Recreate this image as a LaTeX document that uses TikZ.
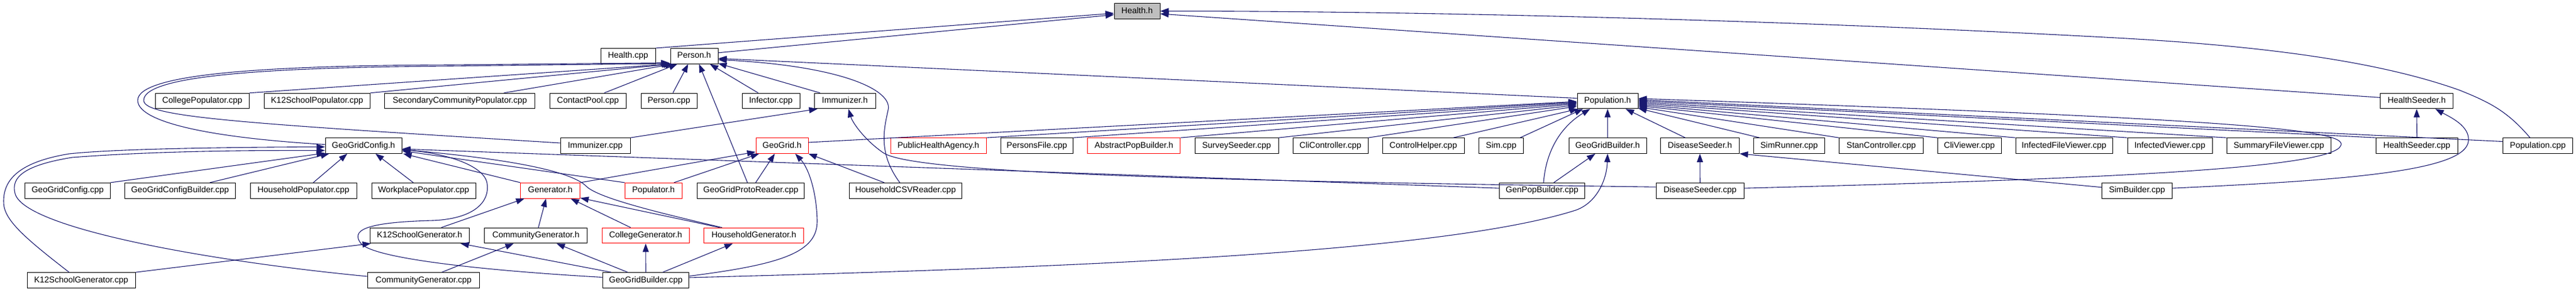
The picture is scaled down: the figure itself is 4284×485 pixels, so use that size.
\documentclass[tikz,border=0pt]{standalone}
\usepackage{fontspec}
\setmainfont{Liberation Sans}
\usetikzlibrary{arrows.meta,calc}
\definecolor{edgeblue}{HTML}{191970}
\definecolor{boxgray}{HTML}{BFBFBF}
\tikzset{
  box/.style={draw=black, line width=1pt, fill=white, minimum height=25.6pt, inner sep=0pt,
    font=\fontsize{14}{16}\selectfont, text height=10pt, text depth=3pt},
  redbox/.style={box, draw=red},
  dep/.style={draw=edgeblue, line width=1.1pt, -{Triangle[length=14pt,width=10pt]}},
}
\begin{document}
\begin{tikzpicture}[x=1pt,y=-1pt]
\useasboundingbox (0,0) rectangle (4284,485);
\fill[white] (0,0) rectangle (4284,485);
% ---------- row 0
\node[box, fill=boxgray, minimum width=76pt] (healthh) at (1891,18.5) {Health.h};
% ---------- row 1
\node[box, minimum width=91pt] (healthcpp) at (1044.5,93.3) {Health.cpp};
\node[box, minimum width=79pt] (personh) at (1154.5,93.3) {Person.h};
% ---------- row 2
\node[box, minimum width=156pt] (collegepop) at (336.5,168) {CollegePopulator.cpp};
\node[box, minimum width=176pt] (k12pop) at (527.3,168) {K12SchoolPopulator.cpp};
\node[box, minimum width=250pt] (seccom) at (764.8,168) {SecondaryCommunityPopulator.cpp};
\node[box, minimum width=127pt] (contactpool) at (977.8,168) {ContactPool.cpp};
\node[box, minimum width=93pt] (personcpp) at (1112.5,168) {Person.cpp};
\node[box, minimum width=96pt] (infector) at (1282,168) {Infector.cpp};
\node[box, minimum width=102pt] (immunizerh) at (1405,168) {Immunizer.h};
\node[box, minimum width=101pt] (populationh) at (2673.5,168) {Population.h};
\node[box, minimum width=121.5pt] (healthseederh) at (4019,168) {HealthSeeder.h};
% ---------- row 3
\node[box, minimum width=127pt] (ggconfigh) at (604.5,242.5) {GeoGridConfig.h};
\node[box, minimum width=116pt] (immunizercpp) at (990,242.5) {Immunizer.cpp};
\node[redbox, minimum width=87pt] (geogridh) at (1300.5,242.5) {GeoGrid.h};
\node[redbox, minimum width=159pt] (pha) at (1560.5,242.5) {PublicHealthAgency.h};
\node[box, minimum width=120pt] (personsfile) at (1724.4,242.5) {PersonsFile.cpp};
\node[redbox, minimum width=154pt] (abspop) at (1885.8,242.5) {AbstractPopBuilder.h};
\node[box, minimum width=139pt] (surveyseeder) at (2056.5,242.5) {SurveySeeder.cpp};
\node[box, minimum width=125pt] (clicontroller) at (2212.5,242.5) {CliController.cpp};
\node[box, minimum width=136pt] (controlhelper) at (2367,242.5) {ControlHelper.cpp};
\node[box, minimum width=74pt] (simcpp) at (2496.5,242.5) {Sim.cpp};
\node[box, minimum width=129pt] (ggbuilderh) at (2673.5,242.5) {GeoGridBuilder.h};
\node[box, minimum width=131pt] (diseaseseederh) at (2827,242.5) {DiseaseSeeder.h};
\node[box, minimum width=117.6pt] (simrunner) at (2975.4,242.5) {SimRunner.cpp};
\node[box, minimum width=140pt] (stancontroller) at (3128.5,242.5) {StanController.cpp};
\node[box, minimum width=105.6pt] (cliviewer) at (3275.2,242.5) {CliViewer.cpp};
\node[box, minimum width=161pt] (infectedfileviewer) at (3432.5,242.5) {InfectedFileViewer.cpp};
\node[box, minimum width=141pt] (infectedviewer) at (3608.5,242.5) {InfectedViewer.cpp};
\node[box, minimum width=173.5pt] (summaryfileviewer) at (3789.8,242.5) {SummaryFileViewer.cpp};
\node[box, minimum width=135.5pt] (healthseedercpp) at (4019.3,242.5) {HealthSeeder.cpp};
\node[box, minimum width=116pt] (populationcpp) at (4220.5,242.5) {Population.cpp};
% ---------- row 4
\node[box, minimum width=141.4pt] (ggconfigcpp) at (112.5,317.2) {GeoGridConfig.cpp};
\node[box, minimum width=183.7pt] (ggcb) at (299.4,317.2) {GeoGridConfigBuilder.cpp};
\node[box, minimum width=177pt] (hhpop) at (504.6,317.2) {HouseholdPopulator.cpp};
\node[box, minimum width=173pt] (wppop) at (704.5,317.2) {WorkplacePopulator.cpp};
\node[redbox, minimum width=98.8pt] (generatorh) at (915.1,317.2) {Generator.h};
\node[redbox, minimum width=95pt] (populatorh) at (1086.8,317.2) {Populator.h};
\node[box, minimum width=178pt] (ggpr) at (1248.7,317.2) {GeoGridProtoReader.cpp};
\node[box, minimum width=187pt] (hhcsv) at (1505.9,317.2) {HouseholdCSVReader.cpp};
\node[box, minimum width=142pt] (genpop) at (2564.5,317.2) {GenPopBuilder.cpp};
\node[box, minimum width=146pt] (diseaseseedercpp) at (2827.2,317.2) {DiseaseSeeder.cpp};
\node[box, minimum width=117.3pt] (simbuilder) at (3553.9,317.2) {SimBuilder.cpp};
% ---------- row 5
\node[box, minimum width=165pt] (k12genh) at (697.8,392) {K12SchoolGenerator.h};
\node[box, minimum width=171.3pt] (comgenh) at (891.3,392) {CommunityGenerator.h};
\node[redbox, minimum width=145pt] (colgenh) at (1073.8,392) {CollegeGenerator.h};
\node[redbox, minimum width=166pt] (hhgenh) at (1253.7,392) {HouseholdGenerator.h};
% ---------- row 6
\node[box, minimum width=180pt] (k12gencpp) at (135,466.5) {K12SchoolGenerator.cpp};
\node[box, minimum width=186.7pt] (comgencpp) at (704.5,466.5) {CommunityGenerator.cpp};
\node[box, minimum width=143.7pt] (ggbcpp) at (1074,466.5) {GeoGridBuilder.cpp};

% ================= edges
% Health.h
\draw[dep] (healthcpp.north east) -- ($(healthh.west)+(0,3.5)$);
\draw[dep] ($(personh.east)+(0,-5.5)$) -- ($(healthh.west)+(0,6)$);
\draw[dep] ($(healthseederh.west)+(0,-5.7)$) -- ($(healthh.east)+(0,4.5)$);
\draw[dep] ($(populationcpp.north)+(-13,0)$) .. controls (4170,185) and (4140,170) .. (4090,150)
   .. controls (3950,100) and (3750,75) .. (3500,62)
   .. controls (3000,35) and (2400,18.5) .. (healthh.east);
% Person.h
\draw[dep] (collegepop.north east) -- (personh.south west);
\draw[dep] (k12pop.north east) -- ($(personh.south west)+(3,0)$);
\draw[dep] ($(seccom.north)+(73,0)$) -- ($(personh.south west)+(6,0)$);
\draw[dep] ($(contactpool.north)+(27,0)$) -- ($(personh.south west)+(12,0)$);
\draw[dep] ($(personcpp.north)+(6.5,0)$) -- ($(personh.south)+(-10,0)$);
\draw[dep] ($(ggpr.north)+(-5.7,0)$) -- ($(personh.south)+(8,0)$);
\draw[dep] ($(infector.north)+(-21,0)$) -- ($(personh.south)+(26,0)$);
\draw[dep] ($(immunizerh.north)+(-41,0)$) -- ($(personh.south east)+(0,-1)$);
\draw[dep] ($(populationh.west)+(0,-4.5)$) -- ($(personh.east)+(0,4)$);
\draw[dep] ($(hhcsv.north)+(-9.5,0)$) .. controls (1460,255) and (1470,215) .. (1477,183)
   .. controls (1485,150) and (1400,110) .. ($(personh.east)+(0,6)$);
\draw[dep] ($(ggconfigh.west)+(0,-2)$) .. controls (330,228) and (229,200) .. (229,167)
   .. controls (229,122) and (450,109) .. (750,108) -- ($(personh.south west)+(-1,-2)$);
\draw[dep] ($(immunizercpp.west)+(0,-4.5)$) .. controls (400,205) and (239,195) .. (239,167)
   .. controls (239,125) and (450,112) .. (750,110) -- ($(personh.south west)+(-1,-1)$);
% Immunizer.h
\draw[dep] (immunizercpp.north east) -- ($(immunizerh.south west)+(6,0)$);
\draw[dep] ($(diseaseseedercpp.west)+(0,-6)$) .. controls (1900,300) and (1520,285) .. (1470,255)
   .. controls (1440,235) and (1418,205) .. ($(immunizerh.south)+(6,0)$);
% GeoGridConfig.h right side
\draw[dep] ($(genpop.west)+(0,-4)$) -- ($(ggconfigh.east)+(0,5.5)$);
\draw[dep] ($(ggbcpp.west)+(0,-5)$) .. controls (800,450) and (620,430) .. (600,405)
   .. controls (585,385) and (600,370) .. (720,367)
   .. controls (790,364) and (815,335) .. (810,305)
   .. controls (805,275) and (740,255) .. ($(ggconfigh.east)+(0,7)$);
\draw[dep] (generatorh.north west) -- ($(ggconfigh.south east)+(2,0)$);
\draw[dep] (populatorh.north west) -- ($(ggconfigh.east)+(0,8.5)$);
\draw[dep] ($(hhgenh.north)+(-53,0)$) .. controls (1100,355) and (995,330) .. (975,310)
   .. controls (950,285) and (850,265) .. ($(ggconfigh.east)+(0,6.5)$);
% GeoGridConfig.h bottom
\draw[dep] (ggconfigcpp.north east) -- ($(ggconfigh.south west)+(0,-1)$);
\draw[dep] ($(ggcb.north)+(49.6,0)$) -- ($(ggconfigh.south west)+(7,0)$);
\draw[dep] ($(hhpop.north)+(16.4,0)$) -- ($(ggconfigh.south)+(-27,0)$);
\draw[dep] ($(wppop.north)+(-17.2,0)$) -- ($(ggconfigh.south)+(20,0)$);
% GeoGridConfig.h left loops
\draw[dep] ($(k12gencpp.north)+(-20,0)$) .. controls (40,395) and (5,365) .. (6,335)
   .. controls (6,300) and (30,270) .. (115,256)
   .. controls (200,247) and (400,245) .. ($(ggconfigh.west)+(0,2)$);
\draw[dep] ($(comgencpp.west)+(0,-6.5)$) .. controls (350,435) and (40,380) .. (25,322)
   .. controls (18,295) and (40,275) .. (120,262)
   .. controls (250,252) and (400,250) .. ($(ggconfigh.west)+(0,8)$);
% GeoGrid.h
\draw[dep] (generatorh.north east) -- ($(geogridh.south west)+(0,-3)$);
\draw[dep] ($(populatorh.north)+(34,0)$) -- ($(geogridh.south west)+(6,0)$);
\draw[dep] ($(ggpr.north)+(8,0)$) -- ($(geogridh.south)+(-12,0)$);
\draw[dep] ($(ggbcpp.east)+(0,-7)$) .. controls (1300,440) and (1360,420) .. (1359,367)
   .. controls (1358,320) and (1345,280) .. ($(geogridh.south)+(22,0)$);
\draw[dep] ($(hhcsv.north west)+(58.6,0)$) -- (geogridh.south east);
% Population.h left side
\draw[dep] ($(geogridh.east)+(0,-5.5)$) -- ($(populationh.west)+(0,1)$);
\draw[dep] (pha.north east) -- ($(populationh.west)+(0,2)$);
\draw[dep] (personsfile.north east) -- ($(populationh.west)+(0,3.5)$);
\draw[dep] (abspop.north east) -- ($(populationh.west)+(0,5)$);
\draw[dep] (surveyseeder.north east) -- ($(populationh.west)+(0,7)$);
\draw[dep] (clicontroller.north east) -- ($(populationh.west)+(0,9)$);
\draw[dep] ($(controlhelper.north)+(50,0)$) -- ($(populationh.south west)+(2,0)$);
\draw[dep] ($(simcpp.north east)+(-6,0)$) -- ($(populationh.south west)+(10,0)$);
\draw[dep] ($(genpop.north)+(2.5,0)$) .. controls (2572,240) and (2605,205) .. ($(populationh.south west)+(22,0)$);
\draw[dep] (ggbuilderh.north) -- (populationh.south);
\draw[dep] ($(diseaseseederh.north)+(-24.5,0)$) -- ($(populationh.south east)+(-21,0)$);
% Population.h right side
\draw[dep] ($(simrunner.north west)+(10,0)$) -- ($(populationh.south east)+(0,-1)$);
\draw[dep] (stancontroller.north west) -- ($(populationh.east)+(0,10)$);
\draw[dep] (cliviewer.north west) -- ($(populationh.east)+(0,8)$);
\draw[dep] (infectedfileviewer.north west) -- ($(populationh.east)+(0,6)$);
\draw[dep] (infectedviewer.north west) -- ($(populationh.east)+(0,4)$);
\draw[dep] (summaryfileviewer.north west) -- ($(populationh.east)+(0,2)$);
\draw[dep] (healthseedercpp.north west) -- (populationh.east);
\draw[dep] ($(populationcpp.west)+(0,-7)$) -- ($(populationh.east)+(0,-2)$);
\draw[dep] ($(diseaseseedercpp.east)+(0,-4)$) .. controls (3500,298) and (3880,280) .. (3893,242)
   .. controls (3905,215) and (3700,197) .. ($(populationh.east)+(0,-4)$);
% HealthSeeder.h
\draw[dep] (healthseedercpp.north) -- (healthseederh.south);
\draw[dep] ($(simbuilder.east)+(0,-4)$) .. controls (3900,300) and (4100,285) .. (4105,235)
   .. controls (4108,210) and (4075,195) .. ($(healthseederh.south)+(31,0)$);
% DiseaseSeeder.h
\draw[dep] ($(simbuilder.west)+(0,-5.5)$) -- (diseaseseederh.south east);
\draw[dep] (diseaseseedercpp.north) -- (diseaseseederh.south);
% GeoGridBuilder.h
\draw[dep] ($(genpop.north)+(19.5,0)$) -- ($(ggbuilderh.south)+(-20.5,0)$);
\draw[dep] ($(ggbcpp.east)+(0,-4.5)$) .. controls (1800,445) and (2400,420) .. (2620,350)
   .. controls (2655,338) and (2672,300) .. (ggbuilderh.south);
% Generator.h
\draw[dep] ($(k12genh.north east)+(-47,0)$) -- ($(generatorh.south west)+(7,0)$);
\draw[dep] ($(comgenh.north)+(4,0)$) -- ($(generatorh.south)+(-7,0)$);
\draw[dep] ($(colgenh.north)+(-25,0)$) -- ($(generatorh.south east)+(-16,0)$);
\draw[dep] ($(hhgenh.north)+(-57,0)$) -- ($(generatorh.south east)+(0,-1)$);
% generators
\draw[dep] (k12gencpp.north east) -- ($(k12genh.south west)+(2,0)$);
\draw[dep] ($(ggbcpp.north west)+(15,0)$) -- ($(k12genh.south east)+(-15,0)$);
\draw[dep] ($(comgencpp.north)+(30,0)$) -- ($(comgenh.south)+(-37,0)$);
\draw[dep] ($(ggbcpp.north)+(-30,0)$) -- ($(comgenh.south east)+(-52,0)$);
\draw[dep] (ggbcpp.north) -- (colgenh.south);
\draw[dep] ($(ggbcpp.north)+(28,0)$) -- ($(hhgenh.south)+(-35,0)$);
\end{tikzpicture}
\end{document}
